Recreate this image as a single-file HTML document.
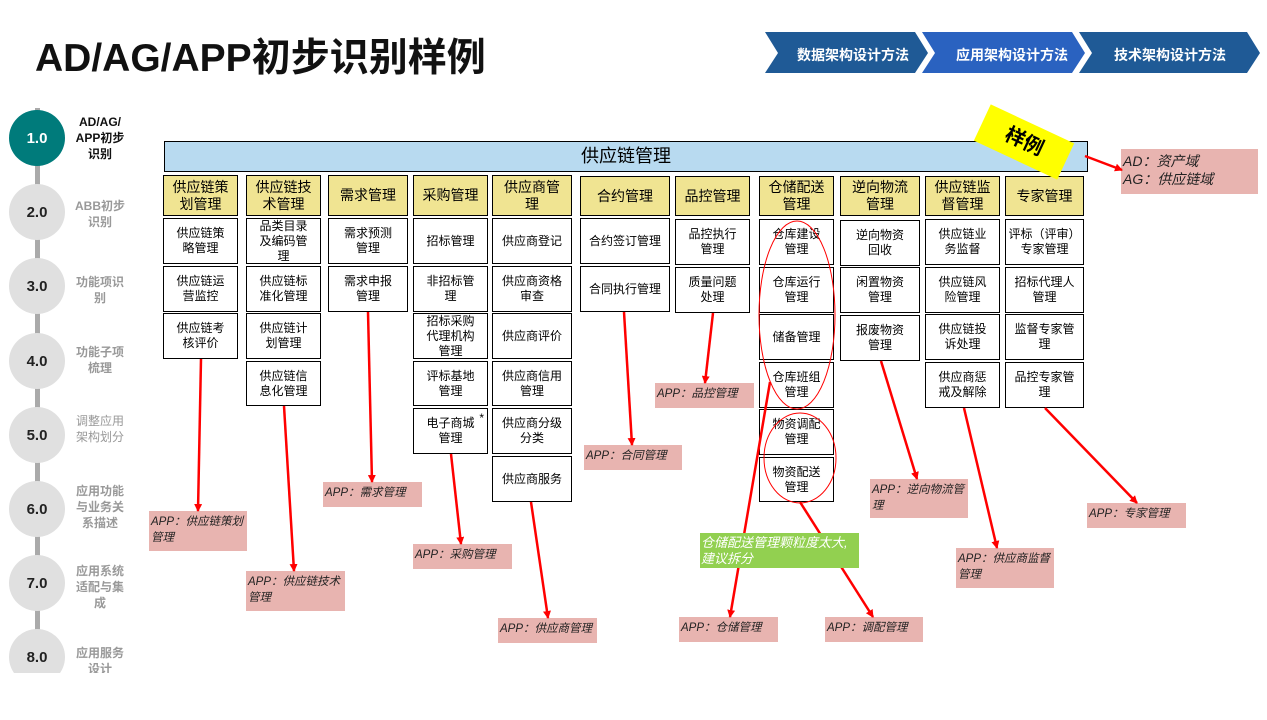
<!DOCTYPE html>
<html><head><meta charset="utf-8"><style>
*{margin:0;padding:0;box-sizing:border-box}
body{width:1267px;height:720px;background:#fff;position:relative;overflow:hidden;font-family:"Liberation Sans","Noto Sans CJK SC",sans-serif}
.a{position:absolute}
.h{position:absolute;background:#f0e492;border:1.5px solid #000;display:flex;align-items:center;justify-content:center;text-align:center;font-size:14px;line-height:17px;color:#000}
.c{position:absolute;background:#fff;border:1.5px solid #000;display:flex;align-items:center;justify-content:center;text-align:center;font-size:12px;line-height:15px;color:#000;padding:0;white-space:nowrap}
.p{position:absolute;background:#e8b4b0;font-style:italic;font-size:11.5px;line-height:16px;color:#222;padding:3px 2px;white-space:nowrap;overflow:hidden}
.cir{position:absolute;width:56px;height:56px;border-radius:50%;background:#e0e0e0;left:9px;display:flex;align-items:center;justify-content:center;font-weight:bold;font-size:15px;color:#222}
.sl{position:absolute;left:70px;width:60px;text-align:center;font-size:12px;line-height:16px;color:#999;font-weight:bold}
</style></head><body>
<div class="a" style="left:35px;top:27px;font-size:39px;font-weight:bold;color:#111">AD/AG/APP初步识别样例</div>
<svg class="a" style="left:0;top:0" width="1267" height="80">
<polygon points="765,32 915,32 928,53 915,73 765,73 778,53" fill="#1f5a96"/>
<polygon points="922,32 1072,32 1085,53 1072,73 922,73 935,53" fill="#2a62c0"/>
<polygon points="1079,32 1247,32 1260,53 1247,73 1079,73 1092,53" fill="#1f5a96"/>
<text x="853" y="60" fill="#fff" font-size="14" font-weight="bold" text-anchor="middle">数据架构设计方法</text>
<text x="1012" y="60" fill="#fff" font-size="14" font-weight="bold" text-anchor="middle">应用架构设计方法</text>
<text x="1170" y="60" fill="#fff" font-size="14" font-weight="bold" text-anchor="middle">技术架构设计方法</text>
</svg>
<div class="a" style="left:35px;top:108px;width:5px;height:570px;background:#aaa"></div>
<div class="cir" style="top:110px;background:#007b7b;color:#fff">1.0</div>
<div class="cir" style="top:184px">2.0</div>
<div class="cir" style="top:258px">3.0</div>
<div class="cir" style="top:333px">4.0</div>
<div class="cir" style="top:407px">5.0</div>
<div class="cir" style="top:481px">6.0</div>
<div class="cir" style="top:555px">7.0</div>
<div class="cir" style="top:629px">8.0</div>
<div class="sl" style="top:114px;color:#111">AD/AG/<br>APP初步<br>识别</div>
<div class="sl" style="top:198px">ABB初步<br>识别</div>
<div class="sl" style="top:274px">功能项识<br>别</div>
<div class="sl" style="top:344px">功能子项<br>梳理</div>
<div class="sl" style="top:413px;font-weight:normal">调整应用<br>架构划分</div>
<div class="sl" style="top:483px">应用功能<br>与业务关<br>系描述</div>
<div class="sl" style="top:563px">应用系统<br>适配与集<br>成</div>
<div class="sl" style="top:645px">应用服务<br>设计</div>
<div class="a" style="left:0;top:673px;width:160px;height:47px;background:#fff"></div>

<div class="a" style="left:164px;top:141px;width:924px;height:31px;background:#b8daf0;border:1.5px solid #000;text-align:center;font-size:18px;line-height:28px">供应链管理</div>

<div class="h" style="left:163px;top:175px;width:75px;height:41px">供应链策<br>划管理</div>
<div class="h" style="left:246px;top:175px;width:75px;height:41px">供应链技<br>术管理</div>
<div class="h" style="left:328px;top:175px;width:80px;height:41px">需求管理</div>
<div class="h" style="left:413px;top:175px;width:75px;height:41px">采购管理</div>
<div class="h" style="left:492px;top:175px;width:80px;height:41px">供应商管<br>理</div>
<div class="h" style="left:580px;top:176px;width:90px;height:40px">合约管理</div>
<div class="h" style="left:675px;top:176px;width:75px;height:40px">品控管理</div>
<div class="h" style="left:759px;top:176px;width:75px;height:40px">仓储配送<br>管理</div>
<div class="h" style="left:840px;top:176px;width:80px;height:40px">逆向物流<br>管理</div>
<div class="h" style="left:925px;top:176px;width:75px;height:40px">供应链监<br>督管理</div>
<div class="h" style="left:1005px;top:176px;width:79px;height:40px">专家管理</div>

<div class="c" style="left:163px;top:218px;width:75px;height:46px">供应链策<br>略管理</div>
<div class="c" style="left:163px;top:266px;width:75px;height:46px">供应链运<br>营监控</div>
<div class="c" style="left:163px;top:313px;width:75px;height:46px">供应链考<br>核评价</div>
<div class="c" style="left:246px;top:218px;width:75px;height:46px">品类目录<br>及编码管<br>理</div>
<div class="c" style="left:246px;top:266px;width:75px;height:46px">供应链标<br>准化管理</div>
<div class="c" style="left:246px;top:313px;width:75px;height:46px">供应链计<br>划管理</div>
<div class="c" style="left:246px;top:361px;width:75px;height:45px">供应链信<br>息化管理</div>
<div class="c" style="left:328px;top:218px;width:80px;height:46px">需求预测<br>管理</div>
<div class="c" style="left:328px;top:266px;width:80px;height:46px">需求申报<br>管理</div>
<div class="c" style="left:413px;top:218px;width:75px;height:46px">招标管理</div>
<div class="c" style="left:413px;top:266px;width:75px;height:46px">非招标管<br>理</div>
<div class="c" style="left:413px;top:313px;width:75px;height:46px">招标采购<br>代理机构<br>管理</div>
<div class="c" style="left:413px;top:361px;width:75px;height:45px">评标基地<br>管理</div>
<div class="c" style="left:413px;top:408px;width:75px;height:46px">电子商城<br>管理<span class="a" style="right:3px;top:2px">*</span></div>
<div class="c" style="left:492px;top:218px;width:80px;height:46px">供应商登记</div>
<div class="c" style="left:492px;top:266px;width:80px;height:46px">供应商资格<br>审查</div>
<div class="c" style="left:492px;top:313px;width:80px;height:46px">供应商评价</div>
<div class="c" style="left:492px;top:361px;width:80px;height:45px">供应商信用<br>管理</div>
<div class="c" style="left:492px;top:408px;width:80px;height:46px">供应商分级<br>分类</div>
<div class="c" style="left:492px;top:456px;width:80px;height:46px">供应商服务</div>
<div class="c" style="left:580px;top:218px;width:90px;height:46px">合约签订管理</div>
<div class="c" style="left:580px;top:266px;width:90px;height:46px">合同执行管理</div>
<div class="c" style="left:675px;top:219px;width:75px;height:46px">品控执行<br>管理</div>
<div class="c" style="left:675px;top:267px;width:75px;height:46px">质量问题<br>处理</div>
<div class="c" style="left:759px;top:219px;width:75px;height:46px">仓库建设<br>管理</div>
<div class="c" style="left:759px;top:267px;width:75px;height:46px">仓库运行<br>管理</div>
<div class="c" style="left:759px;top:314px;width:75px;height:46px">储备管理</div>
<div class="c" style="left:759px;top:362px;width:75px;height:46px">仓库班组<br>管理</div>
<div class="c" style="left:759px;top:409px;width:75px;height:46px">物资调配<br>管理</div>
<div class="c" style="left:759px;top:457px;width:75px;height:45px">物资配送<br>管理</div>
<div class="c" style="left:840px;top:220px;width:80px;height:46px">逆向物资<br>回收</div>
<div class="c" style="left:840px;top:267px;width:80px;height:46px">闲置物资<br>管理</div>
<div class="c" style="left:840px;top:315px;width:80px;height:46px">报废物资<br>管理</div>
<div class="c" style="left:925px;top:219px;width:75px;height:46px">供应链业<br>务监督</div>
<div class="c" style="left:925px;top:267px;width:75px;height:46px">供应链风<br>险管理</div>
<div class="c" style="left:925px;top:314px;width:75px;height:46px">供应链投<br>诉处理</div>
<div class="c" style="left:925px;top:362px;width:75px;height:46px">供应商惩<br>戒及解除</div>
<div class="c" style="left:1005px;top:219px;width:79px;height:46px">评标（评审）<br>专家管理</div>
<div class="c" style="left:1005px;top:267px;width:79px;height:46px">招标代理人<br>管理</div>
<div class="c" style="left:1005px;top:314px;width:79px;height:46px">监督专家管<br>理</div>
<div class="c" style="left:1005px;top:362px;width:79px;height:46px">品控专家管<br>理</div>

<div class="a" style="left:978px;top:122px;width:92px;height:40px;background:#ffff00;transform:rotate(25deg);text-align:center;font-size:20px;line-height:40px;font-weight:bold">样例</div>

<div class="p" style="left:149px;top:511px;width:98px;height:40px">APP：供应链策划<br>管理</div>
<div class="p" style="left:246px;top:571px;width:99px;height:40px">APP：供应链技术<br>管理</div>
<div class="p" style="left:323px;top:482px;width:99px;height:25px">APP：需求管理</div>
<div class="p" style="left:413px;top:544px;width:99px;height:25px">APP：采购管理</div>
<div class="p" style="left:498px;top:618px;width:99px;height:25px">APP：供应商管理</div>
<div class="p" style="left:584px;top:445px;width:98px;height:25px">APP：合同管理</div>
<div class="p" style="left:655px;top:383px;width:99px;height:25px">APP：品控管理</div>
<div class="p" style="left:679px;top:617px;width:99px;height:25px">APP：仓储管理</div>
<div class="p" style="left:825px;top:617px;width:98px;height:25px">APP：调配管理</div>
<div class="p" style="left:870px;top:479px;width:98px;height:39px">APP：逆向物流管<br>理</div>
<div class="p" style="left:956px;top:548px;width:98px;height:40px">APP：供应商监督<br>管理</div>
<div class="p" style="left:1087px;top:503px;width:99px;height:25px">APP：专家管理</div>
<div class="p" style="left:1121px;top:149px;width:137px;height:45px;font-size:14px;line-height:18px">AD：资产域<br>AG：供应链域</div>

<svg class="a" style="left:0;top:0" width="1267" height="720">
<defs><marker id="m" markerWidth="8" markerHeight="8" refX="7" refY="4" orient="auto" markerUnits="userSpaceOnUse"><path d="M0,0 L8,4 L0,8z" fill="#f00"/></marker></defs>
<g stroke="#f00" stroke-width="2.5" fill="none" marker-end="url(#m)">
<line x1="201" y1="359" x2="198" y2="511"/>
<line x1="284" y1="406" x2="294" y2="571"/>
<line x1="368" y1="312" x2="372" y2="482"/>
<line x1="451" y1="454" x2="461" y2="544"/>
<line x1="531" y1="502" x2="548" y2="618"/>
<line x1="624" y1="312" x2="632" y2="445"/>
<line x1="713" y1="313" x2="705" y2="383"/>
<line x1="770" y1="382" x2="730" y2="617"/>
<line x1="800" y1="502" x2="873" y2="617"/>
<line x1="881" y1="361" x2="917" y2="479"/>
<line x1="964" y1="408" x2="997" y2="548"/>
<line x1="1045" y1="408" x2="1137" y2="503"/>
<line x1="1085" y1="156" x2="1122" y2="170"/>
</g>
<ellipse cx="797" cy="315" rx="38" ry="94" stroke="#f00" stroke-width="1" fill="none"/>
<ellipse cx="800" cy="458" rx="36" ry="45" stroke="#f00" stroke-width="1" fill="none"/>
</svg>
<div class="a" style="left:700px;top:533px;width:159px;height:35px;background:#92d050;color:#fff;font-style:italic;font-size:13px;line-height:16px;padding:2px 1px;white-space:nowrap;overflow:hidden">仓储配送管理颗粒度太大,<br>建议拆分</div>
</body></html>
